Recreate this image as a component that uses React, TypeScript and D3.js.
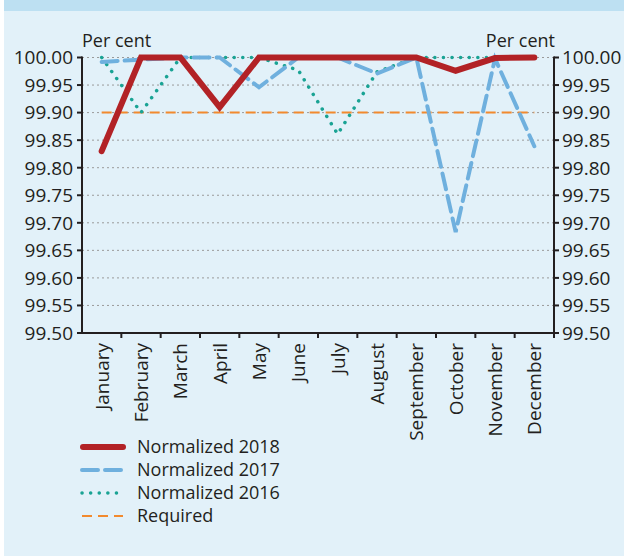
import React from 'react';
import * as d3 from 'd3';

const months = ['January', 'February', 'March', 'April', 'May', 'June', 'July', 'August', 'September', 'October', 'November', 'December'];
const norm2018 = [99.83, 100.0, 100.0, 99.91, 100.0, 100.0, 100.0, 100.0, 100.0, 99.976, 99.999, 100.0];
const norm2017 = [99.992, 99.996, 100.0, 100.0, 99.946, 100.0, 100.0, 99.971, 100.0, 99.683, 99.998, 99.839];
const norm2016 = [100.0, 99.9, 100.0, 100.0, 100.0, 99.977, 99.861, 99.974, 100.0, 100.0, 100.0, 100.0];
const required = [99.9, 99.9, 99.9, 99.9, 99.9, 99.9, 99.9, 99.9, 99.9, 99.9, 99.9, 99.9];
const yTicks = [99.5, 99.55, 99.6, 99.65, 99.7, 99.75, 99.8, 99.85, 99.9, 99.95, 100.0];

const W = 624;
const H = 556;
const left = 82;
const right = 554;
const top = 57.5;
const bottom = 333;
const font = '"Open Sans", "Noto Sans", sans-serif';
const ink = '#231f20';

const series = [
  { name: 'Normalized 2018', values: norm2018, color: '#b22226', width: 6, dash: null, cap: 'round' },
  { name: 'Normalized 2017', values: norm2017, color: '#6fb0de', width: 4, dash: '16 7', cap: 'round' },
  { name: 'Normalized 2016', values: norm2016, color: '#19a394', width: 3.5, dash: '0.1 8.5', cap: 'round' },
  { name: 'Required', values: required, color: '#f28a2e', width: 2, dash: '10 6', cap: 'butt' },
];

const App = () => {
  const x = d3.scaleBand().domain(months).range([left, right]);
  const cx = (m) => x(m) + x.bandwidth() / 2;
  const y = d3.scaleLinear().domain([99.5, 100]).range([bottom, top]);
  const line = (vals) => d3.line().x((d, i) => cx(months[i])).y(d => y(d))(vals);
  const drawOrder = [3, 2, 1, 0];

  return (
    <svg width={W} height={H} style={{ position: 'absolute', left: 0, top: 0 }} fontFamily={font}>
      <rect x={0} y={0} width={W} height={H} fill="#ffffff" />
      <rect x={4} y={0} width={W - 4} height={H} fill="#e2f1f9" />
      <rect x={4} y={0} width={W - 4} height={11} fill="#bde0f2" />

      {yTicks.map(t => (
        <line key={'g' + t} x1={left} x2={right} y1={y(t)} y2={y(t)}
          stroke="#9a9a9a" strokeWidth={1} strokeDasharray="2 3" />
      ))}

      {drawOrder.map(i => {
        const s = series[i];
        return (
          <path key={s.name} d={line(s.values)} fill="none" stroke={s.color}
            strokeWidth={s.width} strokeDasharray={s.dash || undefined}
            strokeLinecap={s.cap} strokeLinejoin="miter" />
        );
      })}

      {/* axes */}
      <line x1={left} x2={left} y1={top - 1} y2={bottom + 1} stroke={ink} strokeWidth={2} />
      <line x1={right} x2={right} y1={top - 1} y2={bottom + 1} stroke={ink} strokeWidth={2} />
      <line x1={left - 5} x2={right + 5} y1={bottom} y2={bottom} stroke={ink} strokeWidth={2} />
      {yTicks.map(t => (
        <React.Fragment key={'t' + t}>
          <line x1={left - 5} x2={left} y1={y(t)} y2={y(t)} stroke={ink} strokeWidth={2} />
          <line x1={right} x2={right + 5} y1={y(t)} y2={y(t)} stroke={ink} strokeWidth={2} />
          <text x={left - 9} y={y(t)} dy="0.36em" textAnchor="end" fontSize={19} fill={ink}>{t.toFixed(2)}</text>
          <text x={right + 8} y={y(t)} dy="0.36em" textAnchor="start" fontSize={19} fill={ink}>{t.toFixed(2)}</text>
        </React.Fragment>
      ))}
      {months.map((m, i) => (
        <React.Fragment key={m}>
          <line x1={x(m) + x.bandwidth()} x2={x(m) + x.bandwidth()} y1={bottom} y2={bottom + 5} stroke={ink} strokeWidth={2} />
          <text transform={`translate(${cx(m)},${bottom + 10}) rotate(-90)`} dy="0.36em"
            textAnchor="end" fontSize={19} fill={ink}>{m}</text>
        </React.Fragment>
      ))}

      <text x={left} y={47} fontSize={18} fill={ink}>Per cent</text>
      <text x={right + 1} y={47} fontSize={18} fill={ink} textAnchor="end">Per cent</text>

      {series.map((s, i) => {
        const ly = 447 + i * 23;
        return (
          <g key={'l' + s.name}>
            <line x1={s.cap === 'round' && !s.dash ? 83 : 82} x2={123} y1={ly} y2={ly} stroke={s.color}
              strokeWidth={s.width} strokeDasharray={s.dash || undefined} strokeLinecap={s.cap} />
            <text x={137} y={ly} dy="0.36em" fontSize={18} fill={ink}>{s.name}</text>
          </g>
        );
      })}
    </svg>
  );
};

export default App;
